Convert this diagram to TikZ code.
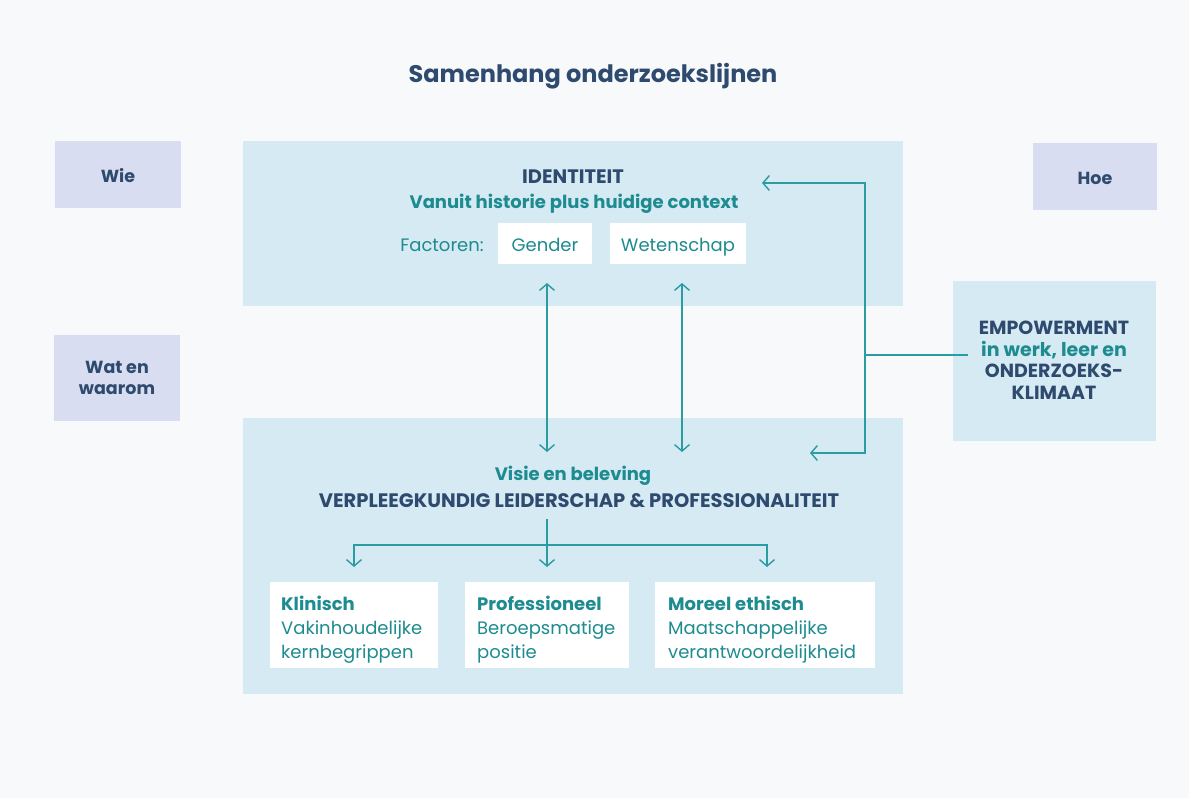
\documentclass[tikz,border=0pt]{standalone}
\usepackage{fontspec}
\setmainfont{Poppins}
\usetikzlibrary{arrows.meta,positioning}
\definecolor{bgc}{HTML}{F8F9FB}
\definecolor{navy}{HTML}{2E4A6E}
\definecolor{teal}{HTML}{1D8B8F}
\definecolor{lineteal}{HTML}{2A9CA2}
\definecolor{lblue}{HTML}{D5EAF3}
\definecolor{lav}{HTML}{D8DDF1}
\tikzset{
  lbox/.style={fill=lblue, draw=none, inner sep=0pt, anchor=north west},
  lavbox/.style={fill=lav, draw=none, inner sep=0pt, anchor=north west},
  wbox/.style={fill=white, draw=none, inner sep=0pt, anchor=north west},
  sidetxt/.style={text=navy, align=center, font=\bfseries\fontsize{17.5}{21}\selectfont},
  factxt/.style={text=teal, anchor=base, inner sep=0pt, font=\fontsize{18}{22}\selectfont},
  cardtxt/.style={anchor=north west, align=left, text=teal, font=\fontsize{18}{24}\selectfont, inner sep=0pt},
  conn/.style={draw=lineteal, line width=1.4pt},
  tip/.style={-{Straight Barb[length=6.5pt,width=15pt,line width=1.4pt]}},
  btip/.style={{Straight Barb[length=6.5pt,width=15pt,line width=1.4pt]}-{Straight Barb[length=6.5pt,width=15pt,line width=1.4pt]}},
}
\begin{document}
\begin{tikzpicture}[x=1pt,y=-1pt]
\useasboundingbox (0,0) rectangle (1189,798);
\fill[bgc] (0,0) rectangle (1189,798);
% title
\node[text=navy, font=\bfseries\fontsize{24}{28}\selectfont] (title) at (593,76) {Samenhang onderzoekslijnen};
% side boxes
\node[lavbox, minimum width=126pt, minimum height=67pt] (wie) at (55,141) {};
\node[sidetxt] (wiet) at (118,176) {Wie};
\node[lavbox, minimum width=126pt, minimum height=86pt] (wat) at (54,335) {};
\node[sidetxt] (watt) at (117,378) {Wat en\\waarom};
\node[lavbox, minimum width=124pt, minimum height=67pt] (hoe) at (1033,143) {};
\node[sidetxt] (hoet) at (1095,178) {Hoe};
% empowerment
\node[lbox, minimum width=203pt, minimum height=160pt] (emp) at (953,281) {};
\node[align=center, font=\bfseries\fontsize{19}{21.5}\selectfont] (empt) at (1054,360) {\textcolor{navy}{EMPOWERMENT}\\\textcolor{teal}{in werk, leer en}\\\textcolor{navy}{ONDERZOEKS-}\\\textcolor{navy}{KLIMAAT}};
% identiteit box
\node[lbox, minimum width=660pt, minimum height=165pt] (id) at (243,141) {};
\node[text=navy, font=\bfseries\fontsize{19.5}{22}\selectfont] (idt) at (573,177) {IDENTITEIT};
\node[text=teal, font=\bfseries\fontsize{18}{22}\selectfont] (vanuit) at (574,204) {Vanuit historie plus huidige context};
\node[wbox, minimum width=94pt, minimum height=41pt] (gender) at (498,223) {};
\node[wbox, minimum width=136pt, minimum height=41pt] (wet) at (610,223) {};
\node[factxt] (fact) at (442,251) {Factoren:};
\node[factxt] (gendert) at (545,251) {Gender};
\node[factxt] (wett) at (678,251) {Wetenschap};
% bottom box
\node[lbox, minimum width=660pt, minimum height=276pt] (bot) at (243,418) {};
\node[text=teal, font=\bfseries\fontsize{18}{22}\selectfont] (visie) at (573,476) {Visie en beleving};
\node[text=navy, font=\bfseries\fontsize{19.5}{22}\selectfont] (verpl) at (579,501) {VERPLEEGKUNDIG LEIDERSCHAP \& PROFESSIONALITEIT};
% white boxes
\node[wbox, minimum width=168pt, minimum height=86pt] (klin) at (270,582) {};
\node[cardtxt] (klint) at (281,596) {\textbf{Klinisch}\\Vakinhoudelijke\\kernbegrippen};
\node[wbox, minimum width=164pt, minimum height=86pt] (prof) at (465,582) {};
\node[cardtxt] (proft) at (477,596) {\textbf{Professioneel}\\Beroepsmatige\\positie};
\node[wbox, minimum width=220pt, minimum height=86pt] (mor) at (655,582) {};
\node[cardtxt] (mort) at (668,596) {\textbf{Moreel ethisch}\\Maatschappelijke\\verantwoordelijkheid};
% connectors
\coordinate (a1t) at (547,283); \coordinate (a1b) at (547,452);
\coordinate (a2t) at (682,283); \coordinate (a2b) at (682,452);
\draw[conn, btip] (a1t) -- (a1b);
\draw[conn, btip] (a2t) -- (a2b);
\coordinate (rtop) at (762,183); \coordinate (rbot) at (810,453);
\coordinate (rx) at (865,355); \coordinate (re) at (968,355);
\draw[conn, tip] (rx) |- (rtop);
\draw[conn, tip] (rx) |- (rbot);
\draw[conn] (rx) -- (re);
% tree
\coordinate (tt) at (547,519); \coordinate (tj) at (547,545);
\coordinate (tl) at (354,567); \coordinate (tm) at (547,567); \coordinate (tr) at (767,567);
\draw[conn, tip] (tt) -- (tm);
\draw[conn, tip] (tj) -| (tl);
\draw[conn, tip] (tj) -| (tr);
\end{tikzpicture}
\end{document}
